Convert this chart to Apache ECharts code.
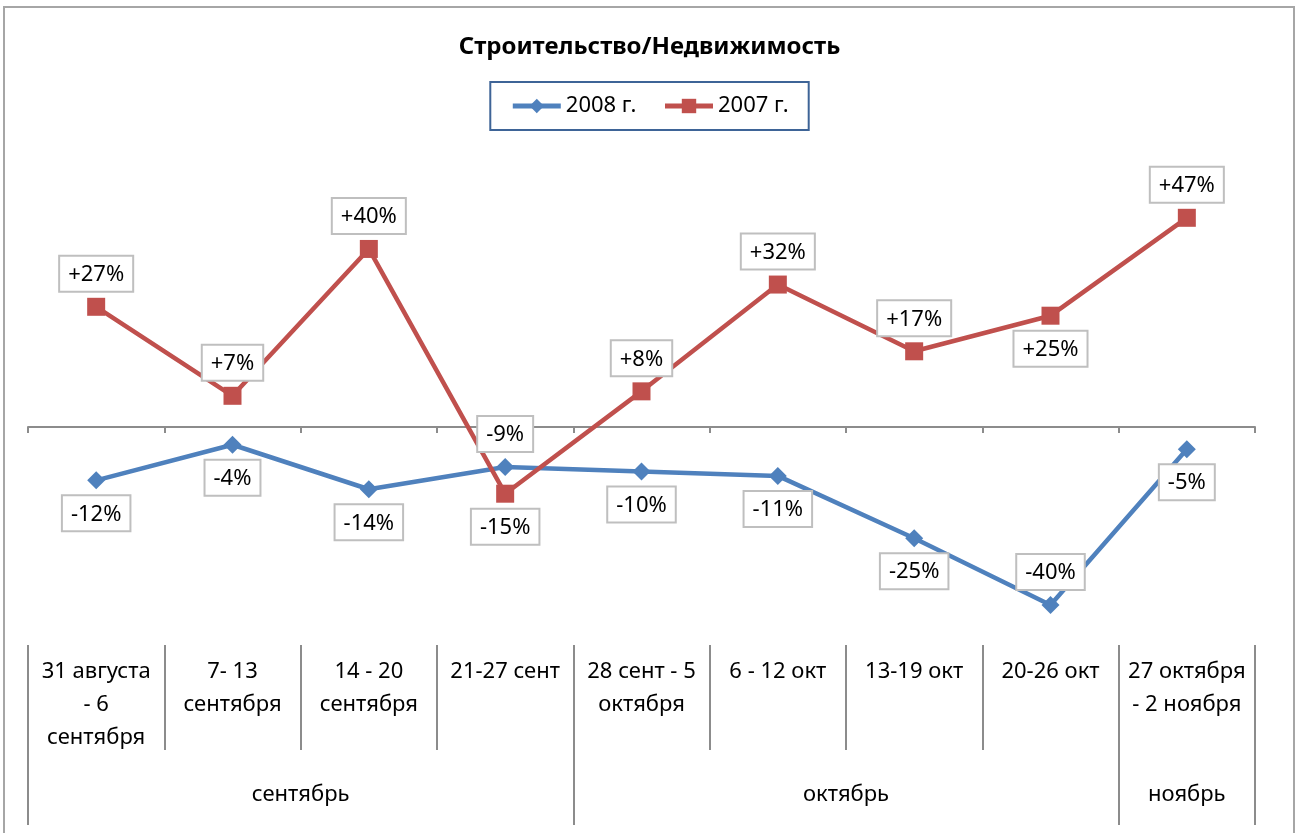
<!DOCTYPE html>
<html>
<head>
<meta charset="utf-8">
<script src="https://cdn.jsdelivr.net/npm/echarts@6/dist/echarts.min.js"></script>
<style>
  html, body { margin: 0; padding: 0; background: #fff; }
  #chart { width: 1299px; height: 833px; }
</style>
</head>
<body>
<div id="chart"></div>
<script>
const weeks = [
  '31 августа\n- 6\nсентября',
  '7- 13\nсентября',
  '14 - 20\nсентября',
  '21-27 сент',
  '28 сент - 5\nоктября',
  '6 - 12 окт',
  '13-19 окт',
  '20-26 окт',
  '27 октября\n- 2 ноября',
]
const months = ['сентябрь', 'октябрь', 'ноябрь']
const monthBounds = [0, 4, 8, 9]
const monthCenters = [2, 6, 8.5]

const y2008 = [-12, -4, -14, -9, -10, -11, -25, -40, -5]
const y2007 = [27, 7, 40, -15, 8, 32, 17, 25, 47]

// label side for each point
const side2008 = ['bottom', 'bottom', 'bottom', 'top', 'bottom', 'bottom', 'bottom', 'top', 'bottom']
const side2007 = ['top', 'top', 'top', 'bottom', 'top', 'top', 'top', 'bottom', 'top']

const FONT = 'Noto Sans'
const FS = 22
const GRAY = '#8C8C8C'

const pct = (v) => (v > 0 ? `+${v}%` : `${v}%`)

const withSides = (values, sides) =>
  values.map((v, i) => ({ value: v, label: { position: sides[i] } }))

const labelBox = {
  show: true,
  formatter: (p) => pct(p.value),
  color: '#000',
  fontFamily: FONT,
  fontSize: FS,
  backgroundColor: '#fff',
  borderColor: '#BFBFBF',
  borderWidth: 2,
  padding: [7, 8, 5, 8],
  distance: 7,
}

const chart = echarts.init(document.getElementById('chart'))

chart.setOption({
  animation: false,
  textStyle: { fontFamily: FONT },
  title: {
    text: 'Строительство/Недвижимость',
    left: 'center',
    top: 30,
    textStyle: { fontFamily: FONT, fontSize: 24, fontWeight: 'bold', color: '#000' },
  },
  legend: {
    top: 82,
    left: 'center',
    padding: [13, 20],
    itemGap: 26,
    itemWidth: 48,
    itemHeight: 18,
    borderColor: '#3E6497',
    borderWidth: 2,
    lineStyle: { width: 5 },
    textStyle: { fontFamily: FONT, fontSize: FS, color: '#000' },
    data: ['2008 г.', '2007 г.'],
  },
  graphic: [
    {
      type: 'rect',
      shape: { x: 4, y: 7, width: 1290, height: 840 },
      style: { fill: 'none', stroke: '#A6A6A6', lineWidth: 2 },
      silent: true,
    },
  ],
  grid: { left: 28, right: 44, top: 155.5, bottom: 188 },
  xAxis: [
    {
      type: 'category',
      data: weeks,
      boundaryGap: true,
      axisLine: { onZero: true, lineStyle: { color: GRAY, width: 2 } },
      axisTick: { show: true, length: 6, lineStyle: { color: GRAY, width: 2 } },
      axisLabel: { show: false },
    },
    {
      type: 'category',
      data: weeks,
      position: 'bottom',
      boundaryGap: true,
      axisLine: { show: false, onZero: false },
      axisTick: { show: true, length: 105, lineStyle: { color: GRAY, width: 2 } },
      axisLabel: {
        interval: 0,
        margin: 10,
        fontFamily: FONT,
        fontSize: FS,
        lineHeight: 33,
        color: '#000',
      },
    },
    {
      type: 'value',
      position: 'bottom',
      offset: 105,
      min: 0,
      max: 9,
      axisLine: { show: false, onZero: false },
      splitLine: { show: false },
      axisTick: { show: true, length: 75, customValues: monthBounds, lineStyle: { color: GRAY, width: 2 } },
      axisLabel: {
        customValues: monthCenters,
        margin: 34,
        fontFamily: FONT,
        fontSize: FS,
        color: '#000',
        formatter: (v) => months[monthCenters.indexOf(v)],
      },
    },
  ],
  yAxis: {
    type: 'value',
    min: -49,
    max: 61,
    show: false,
    splitLine: { show: false },
  },
  series: [
    {
      name: '2008 г.',
      type: 'line',
      xAxisIndex: 0,
      data: withSides(y2008, side2008),
      symbol: 'diamond',
      symbolSize: 18,
      itemStyle: { color: '#4F81BD' },
      lineStyle: { color: '#4F81BD', width: 4.5 },
      label: labelBox,
    },
    {
      name: '2007 г.',
      type: 'line',
      xAxisIndex: 0,
      data: withSides(y2007, side2007),
      symbol: 'rect',
      symbolSize: 18,
      itemStyle: { color: '#C0504D' },
      lineStyle: { color: '#C0504D', width: 4.5 },
      label: labelBox,
    },
  ],
})
</script>
</body>
</html>
